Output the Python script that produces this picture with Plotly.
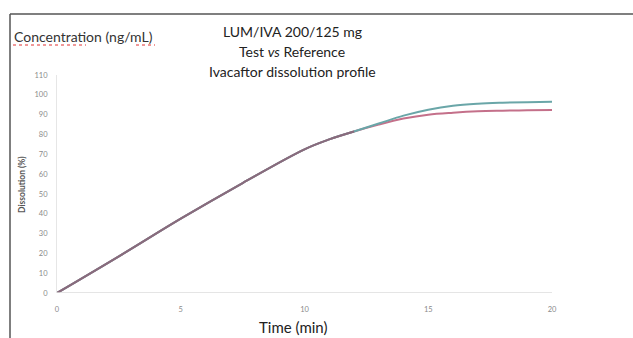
import plotly.graph_objects as go

time_min = [0, 2.5, 5, 7.5, 10, 11, 12, 13, 14, 15, 16, 17, 18, 19, 20]
test_vals = [0, 18.5, 37.5, 55.5, 72.5, 77.5, 81.5, 85.5, 89.5, 92.5, 94.5, 95.5, 96, 96.3, 96.5]
ref_vals = [0, 18.5, 37.5, 55.5, 72.5, 77.5, 81.5, 85, 88, 90, 91, 91.7, 92, 92.2, 92.4]
x_ticks = [0, 5, 10, 15, 20]
y_ticks = list(range(0, 111, 10))

FONT = "Lato, 'Open Sans', sans-serif"

fig = go.Figure()
fig.add_trace(go.Scatter(x=time_min, y=ref_vals, mode="lines", name="Reference",
                         line=dict(color="#c4708a", width=2, shape="spline")))
fig.add_trace(go.Scatter(x=time_min, y=test_vals, mode="lines", name="Test",
                         line=dict(color="#6aa6a8", width=2, shape="spline")))
# overlap darker shade where identical
fig.add_trace(go.Scatter(x=time_min[:7], y=test_vals[:7], mode="lines", name="Overlap",
                         line=dict(color="#8a6a7c", width=2, shape="spline")))

L, R, T, B = 57, 81, 75, 45
W, H = 633, 338
pw, ph = W - L - R, H - T - B

def px_x(x):
    return (x - L) / pw

def px_y(y):
    return (H - B - y) / ph

fig.update_layout(
    width=W, height=H,
    margin=dict(l=L, r=R, t=T, b=B),
    paper_bgcolor="white", plot_bgcolor="white",
    showlegend=False,
    font=dict(family=FONT),
    xaxis=dict(range=[0, 20], tickvals=x_ticks, showgrid=False, zeroline=False,
               showline=False, ticks="", ticklabelstandoff=10,
               tickfont=dict(size=7.5, color="#8a8a8a")),
    yaxis=dict(range=[0, 110], tickvals=y_ticks, showgrid=False, zeroline=False,
               showline=True, linecolor="#e6e6e6", linewidth=1, ticks="",
               ticklabelstandoff=7,
               tickfont=dict(size=7.5, color="#8a8a8a")),
    shapes=[
        dict(type="line", xref="paper", yref="y", x0=0, x1=1, y0=0, y1=0,
             line=dict(color="#dcdcdc", width=1.5)),
        dict(type="line", xref="paper", yref="paper", x0=px_x(10), x1=px_x(10),
             y0=px_y(338), y1=px_y(14), line=dict(color="#555555", width=1.5)),
        dict(type="line", xref="paper", yref="paper", x0=px_x(10), x1=px_x(633),
             y0=px_y(14), y1=px_y(14), line=dict(color="#555555", width=1.5)),
        dict(type="line", xref="paper", yref="paper", x0=px_x(13), x1=px_x(86),
             y0=px_y(45), y1=px_y(45), line=dict(color="#e03030", width=1, dash="dot")),
        dict(type="line", xref="paper", yref="paper", x0=px_x(136), x1=px_x(155),
             y0=px_y(45), y1=px_y(45), line=dict(color="#e03030", width=1, dash="dot")),
    ],
    annotations=[
        dict(text="Concentration (ng/mL)", xref="paper", yref="paper", x=px_x(12), y=px_y(37),
             xanchor="left", yanchor="middle", showarrow=False,
             font=dict(size=14, color="#333333")),
        dict(text="LUM/IVA 200/125 mg", xref="paper", yref="paper", x=px_x(292), y=px_y(32),
             xanchor="center", yanchor="middle", showarrow=False,
             font=dict(size=14, color="#222222")),
        dict(text="Test <i>vs</i> Reference", xref="paper", yref="paper", x=px_x(292), y=px_y(51),
             xanchor="center", yanchor="middle", showarrow=False,
             font=dict(size=14, color="#222222")),
        dict(text="Ivacaftor dissolution profile", xref="paper", yref="paper", x=px_x(292), y=px_y(71),
             xanchor="center", yanchor="middle", showarrow=False,
             font=dict(size=14, color="#222222")),
        dict(text="Time (min)", xref="paper", yref="paper", x=px_x(293), y=px_y(327),
             xanchor="center", yanchor="middle", showarrow=False,
             font=dict(size=15, color="#222222")),
        dict(text="<b>Dissolution (%)</b>", xref="paper", yref="paper", x=px_x(22), y=px_y(185),
             xanchor="center", yanchor="middle", showarrow=False, textangle=-90,
             font=dict(size=8.5, color="#555555")),
    ],
)

fig.write_html("out.html")
